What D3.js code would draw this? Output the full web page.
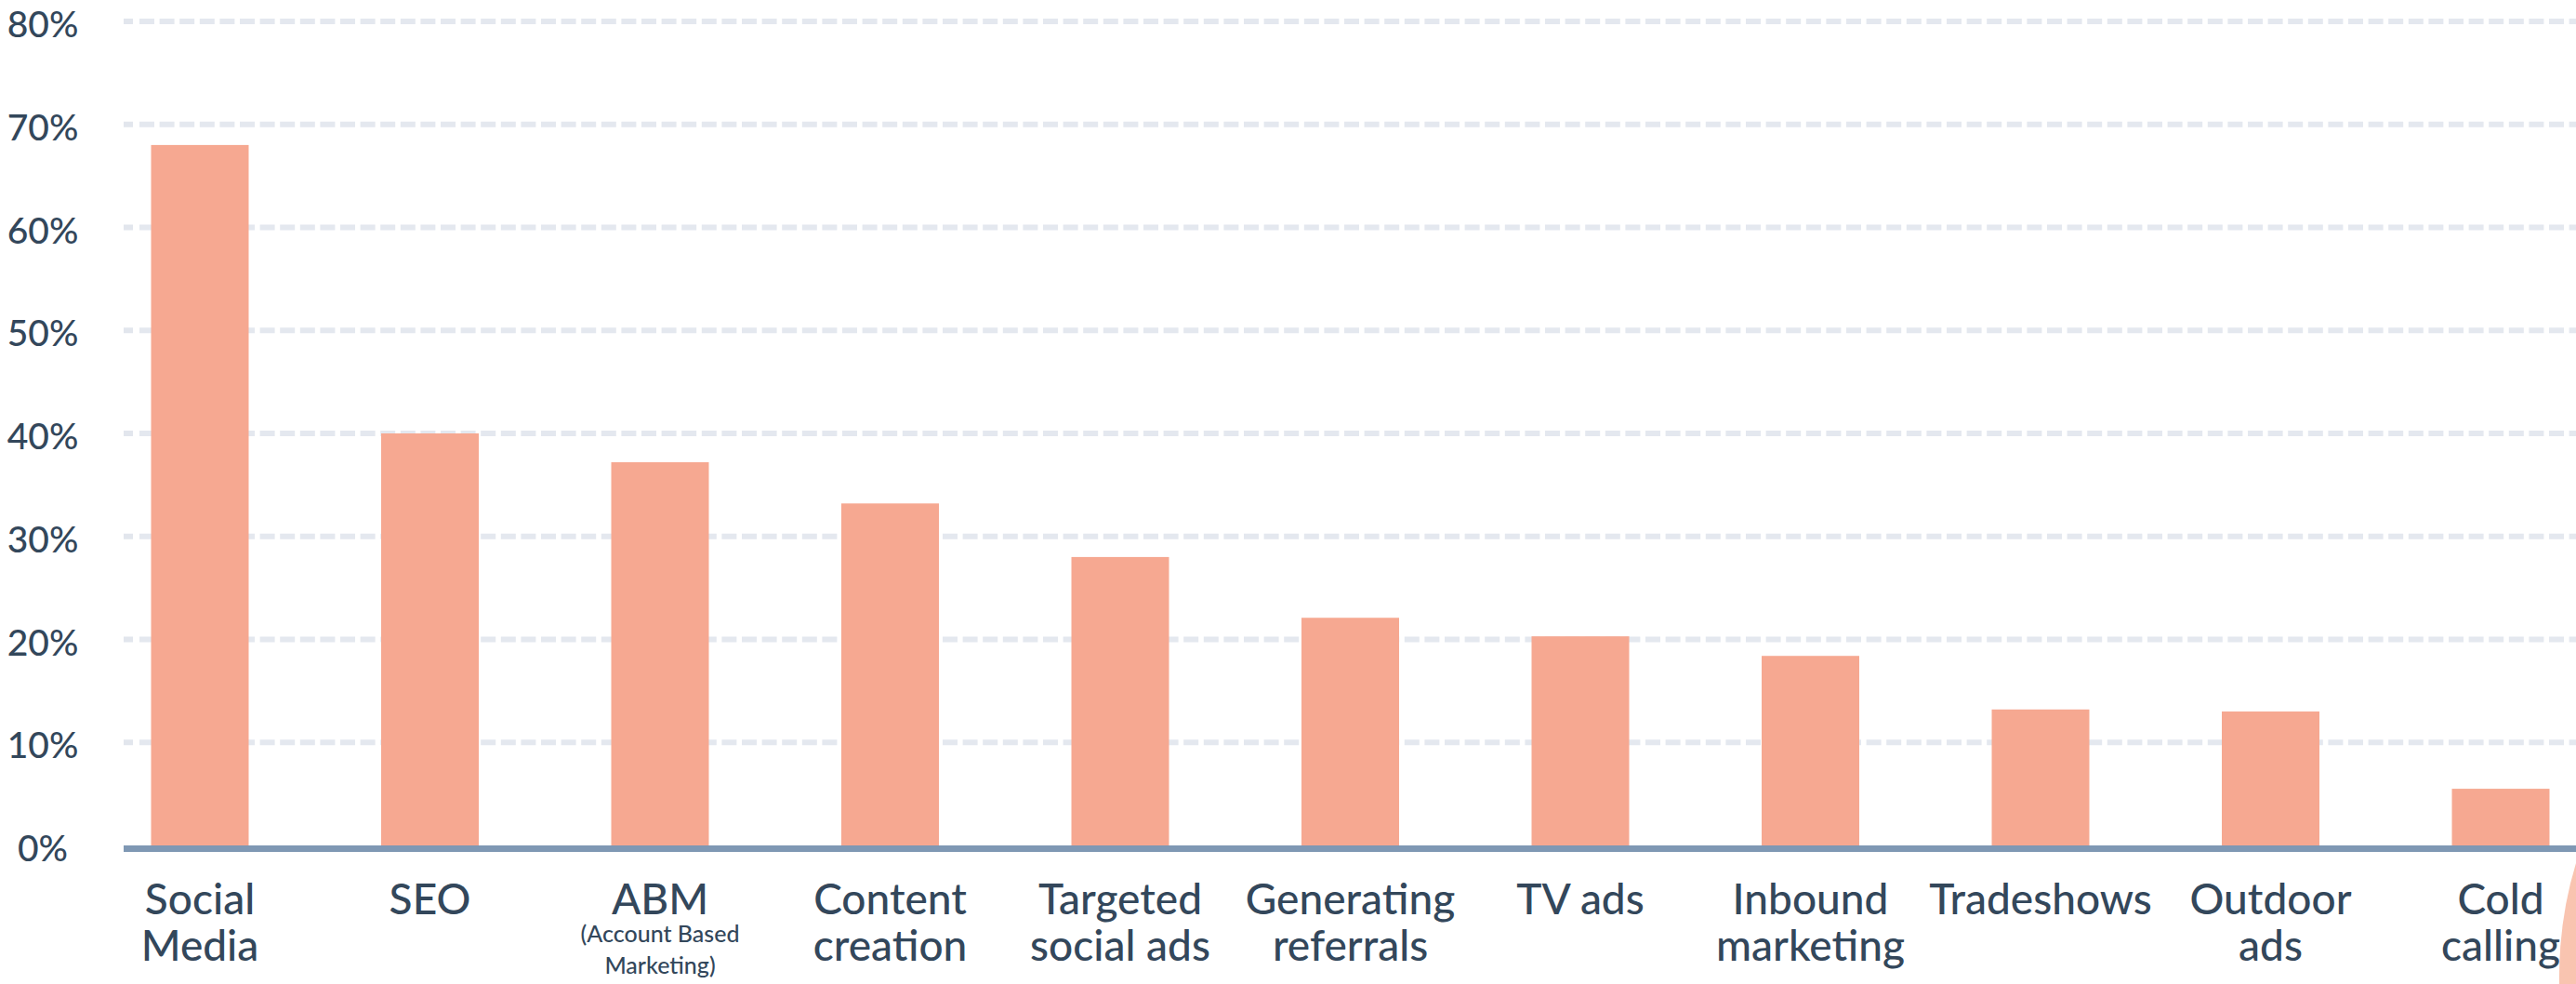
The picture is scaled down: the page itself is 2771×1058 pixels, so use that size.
<!DOCTYPE html>
<html>
<head>
<meta charset="utf-8">
<script src="https://cdn.jsdelivr.net/npm/d3@7"></script>
<style>
  html, body { margin: 0; padding: 0; background: #fff; overflow: hidden; }
  text { font-family: Lato, "Noto Sans", sans-serif; fill: #33475b; font-weight: 500; }
</style>
</head>
<body>
<svg id="chart"></svg>
<script>
// data
var categories = ["Social Media", "SEO", "ABM", "Content creation", "Targeted social ads",
  "Generating referrals", "TV ads", "Inbound marketing", "Tradeshows", "Outdoor ads", "Cold calling"];
var labelLines = [["Social", "Media"], ["SEO"], ["ABM"], ["Content", "creation"], ["Targeted", "social ads"],
  ["Generating", "referrals"], ["TV ads"], ["Inbound", "marketing"], ["Tradeshows"], ["Outdoor", "ads"], ["Cold", "calling"]];
var subLabels = ["", "", "(Account Based|Marketing)", "", "", "", "", "", "", "", ""];
var values = [68.0, 40.0, 37.2, 33.2, 28.0, 22.1, 20.3, 18.4, 13.2, 13.0, 5.5];
var yTicks = [0, 10, 20, 30, 40, 50, 60, 70, 80];

var W = 2771, H = 1058;
var svg = d3.select("#chart").attr("width", W).attr("height", H);

// scales
var y = d3.scaleLinear().domain([0, 80]).range([909, 23]);
var x = d3.scaleBand()
    .domain(categories)
    .range([91.25, 2813.75])
    .paddingInner(0.5758)
    .paddingOuter(0.2879);

var plotLeft = 133;

// dashed gridlines
var grid = svg.append("g");
yTicks.filter(function(t) { return t > 0; }).forEach(function(t) {
    grid.append("rect")
        .attr("x", plotLeft).attr("y", y(t) - 3)
        .attr("width", 10).attr("height", 6)
        .attr("fill", "#e2e6ed");
    grid.append("line")
        .attr("x1", 150).attr("x2", W)
        .attr("y1", y(t)).attr("y2", y(t))
        .attr("stroke", "#e4e8ef")
        .attr("stroke-width", 6)
        .attr("stroke-dasharray", "16,5.6");
});

// y labels
svg.append("g").selectAll("text")
    .data(yTicks)
    .enter().append("text")
    .attr("x", 46)
    .attr("y", function(d) { return y(d) + 17; })
    .attr("text-anchor", "middle")
    .attr("font-size", 39)
    .text(function(d) { return d + "%"; });

// bars
svg.append("g").selectAll("rect")
    .data(values)
    .enter().append("rect")
    .attr("x", function(d, i) { return x(categories[i]); })
    .attr("y", function(d) { return y(d); })
    .attr("width", x.bandwidth())
    .attr("height", function(d) { return y(0) - y(d); })
    .attr("fill", "#f6a891");

// baseline axis
svg.append("line")
    .attr("x1", plotLeft).attr("x2", W)
    .attr("y1", y(0) + 3.5).attr("y2", y(0) + 3.5)
    .attr("stroke", "#7f98b4")
    .attr("stroke-width", 7);

// category labels
var labels = svg.append("g").selectAll("g")
    .data(categories)
    .enter().append("g")
    .attr("transform", function(d) { return "translate(" + (x(d) + x.bandwidth() / 2) + ",0)"; });

labels.each(function(d, i) {
    var g = d3.select(this);
    labelLines[i].forEach(function(line, j) {
        g.append("text")
            .attr("y", 983 + j * 50)
            .attr("text-anchor", "middle")
            .attr("font-size", 46)
            .text(line);
    });
    if (subLabels[i]) {
        subLabels[i].split("|").forEach(function(line, j) {
            g.append("text")
                .attr("y", 1013 + j * 34)
                .attr("text-anchor", "middle")
                .attr("font-size", 25)
                .text(line);
        });
    }
});

// decorative sliver at the right edge
svg.append("path")
    .attr("d", "M2771,928 Q2752,990 2753,1058 L2771,1058 Z")
    .attr("fill", "#f9c4b0");
</script>
</body>
</html>
